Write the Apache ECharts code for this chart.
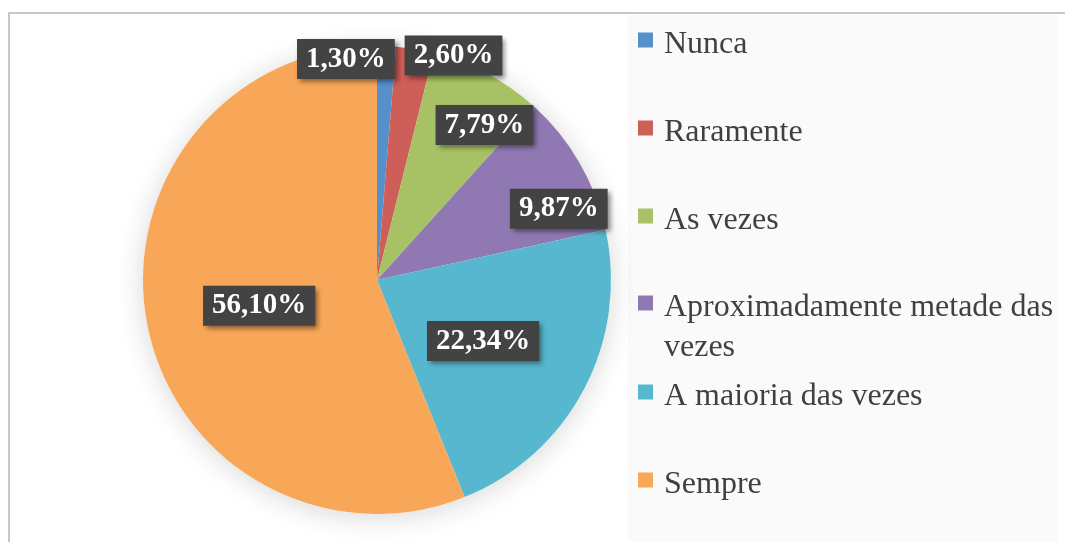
<!DOCTYPE html>
<html>
<head>
<meta charset="utf-8">
<script src="https://cdn.jsdelivr.net/npm/echarts@6/dist/echarts.min.js"></script>
<style>
  html, body { margin: 0; padding: 0; background: #fff; }
  #main { width: 1065px; height: 542px; }
</style>
</head>
<body>
<div id="main"></div>
<script>
// data
const categories = ['Nunca', 'Raramente', 'As vezes', 'Aproximadamente metade das vezes', 'A maioria das vezes', 'Sempre'];
const values = [1.30, 2.60, 7.79, 9.87, 22.34, 56.10];

// office-like palette
const colors = ['#5690cc', '#cd5f58', '#a6c264', '#9079b3', '#57b7cf', '#f8a658'];

// nudges for the data labels (excel "best fit" look)
const labelOffsets = [[-36, -101], [57, -106], [51, -49], [78, -11], [0, 5], [0, 3]];

const myChart = echarts.init(document.getElementById('main'));

const center = [377, 280];
const radius = 234;

// legend text: wrap long names by hand so the icon stays on the first line
const lineH = 40;
const drop = 10; // text sits a bit below the icon centre
const maxW = 400;
const ctx = document.createElement('canvas').getContext('2d');
ctx.font = '32px "Liberation Serif"';
function wrap(text) {
  const lines = [];
  let cur = '';
  text.split(' ').forEach((w) => {
    const test = cur ? cur + ' ' + w : w;
    if (cur && ctx.measureText(test).width > maxW) {
      lines.push(cur);
      cur = w;
    } else {
      cur = test;
    }
  });
  lines.push(cur);
  return lines;
}

const textTok = {
  fontFamily: 'Liberation Serif',
  fontSize: 32,
  color: '#404040',
  lineHeight: lineH,
  padding: [0, 0, 0, 6],
};

const legends = categories.map((name, i) => {
  const lines = wrap(name);
  const n = lines.length;
  const iconCenter = 40 + i * 88;
  const spH = (n - 1) * lineH + drop;
  const blockH = spH + n * lineH;
  // small correction found by eye
  const corr = n === 1 ? 3 : 22;
  return {
    data: [name],
    orient: 'vertical',
    left: 638,
    top: iconCenter - blockH / 2 + corr,
    padding: 0,
    icon: 'rect',
    itemWidth: 15,
    itemHeight: 15,
    selectedMode: false,
    formatter: () => '{sp| }\n' + lines.map((l) => '{t|' + l + '}').join('\n'),
    textStyle: {
      color: '#404040',
      rich: {
        sp: { fontSize: 4, lineHeight: spH },
        t: textTok,
      },
    },
  };
});

const option = {
  color: colors,
  animation: false,
  graphic: [
    {
      type: 'rect',
      z: -10,
      shape: { x: 9, y: 13, width: 1100, height: 600 },
      style: { fill: '#fff', stroke: '#c8c8c8', lineWidth: 2 },
    },
    {
      type: 'rect',
      z: -9,
      shape: { x: 628, y: 15, width: 430, height: 540 },
      style: { fill: '#fafafa' },
    },
  ],
  legend: legends,
  series: [
    {
      // soft shadow behind the pie
      type: 'pie',
      silent: true,
      center: center,
      radius: radius,
      label: { show: false },
      labelLine: { show: false },
      data: [{ name: '', value: values.reduce((a, b) => a + b, 0) }],
      itemStyle: {
        color: '#fff',
        shadowBlur: 28,
        shadowColor: 'rgba(0,0,0,0.16)',
        shadowOffsetY: 3,
      },
    },
    {
      name: 'Frequência',
      type: 'pie',
      center: center,
      radius: radius,
      startAngle: 90,
      clockwise: true,
      data: categories.map((name, i) => ({
        name: name,
        value: values[i],
        label: { offset: labelOffsets[i] },
      })),
      label: {
        show: true,
        position: 'inside',
        formatter: (p) => p.value.toFixed(2).replace('.', ',') + '%',
        fontFamily: 'Liberation Serif',
        fontWeight: 'bold',
        fontSize: 29,
        lineHeight: 29,
        color: '#fff',
        backgroundColor: '#434343',
        padding: [6, 9, 5, 9],
        shadowColor: 'rgba(0,0,0,0.45)',
        shadowBlur: 5,
        shadowOffsetX: 3,
        shadowOffsetY: 3,
      },
      labelLine: { show: false },
      itemStyle: { borderWidth: 0 },
    },
  ],
};

myChart.setOption(option);
</script>
</body>
</html>
